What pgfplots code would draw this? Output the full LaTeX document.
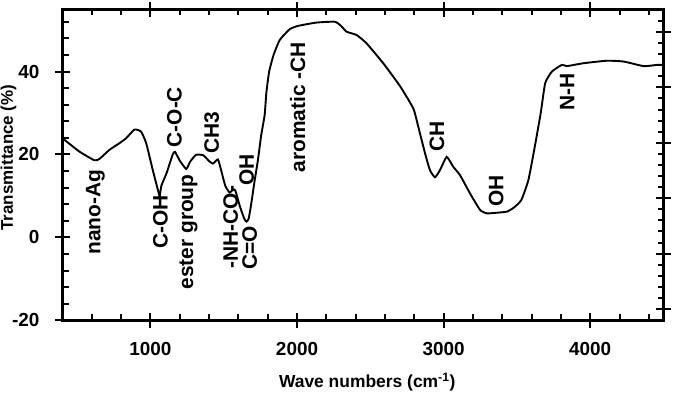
\documentclass[border=0pt]{standalone}
\usepackage{fontspec}
\setmainfont{Liberation Sans}
\usepackage{pgfplots}
\pgfplotsset{compat=1.18}
\pgfplotsset{base/.style={scale only axis, width=601bp, height=311bp,
  xmin=400, xmax=4500, ymin=-20, ymax=55,
  every tick/.style={line width=2bp, black},
  /pgf/number format/assume math mode=true,
  /pgf/number format/1000 sep={}}}
\begin{document}
\begin{tikzpicture}[font=\bfseries]
\begin{axis}[base,
  axis line style={line width=3bp},
  xtick={1000,2000,3000,4000}, ytick={-20,0,20,40},
  xtick pos=both, ytick pos=left,
  tick align=center, major tick length=15bp, minor tick num=0,
  tick label style={font=\bfseries\fontsize{19}{19}\selectfont},
  xticklabel style={yshift=-11bp},
  yticklabel style={xshift=-12bp},
  xlabel={Wave numbers (cm\textsuperscript{-1})},
  xlabel style={at={(axis description cs:0.507,-0.2175)}, anchor=base, font=\bfseries\fontsize{17.5}{17.5}\selectfont},
  ylabel={Transmittance (\%)},
  ylabel style={at={(axis description cs:-0.0899,0.523)}, anchor=center, font=\bfseries\fontsize{17}{17}\selectfont},
]
\coordinate (O) at (rel axis cs:0,0);
\addplot[black, line width=1.9bp, smooth, tension=0.3] coordinates {
(400,23.9) (515,20.7) (617,18.6) (651,18.9) (720,21.1) (788,22.7) (834,23.9)
(891,26.0) (936,25.5) (971,22.7) (1016,16.2) (1057,10.6) (1063,9.8) (1075,12.5)
(1110,15.5) (1152,20.0) (1168,20.6) (1200,18.5) (1244,16.5) (1270,18.2)
(1310,19.9) (1360,19.8) (1400,18.4) (1426,17.8) (1460,18.8) (1480,16.5)
(1510,12.5) (1540,10.8) (1565,11.6) (1580,11.2) (1610,7.5) (1640,4.5)
(1655,3.8) (1670,4.5) (1688,8.2) (1710,13.5) (1733,18.6) (1755,24.5)
(1779,29.5) (1791,35.0) (1810,40.0) (1840,44.0) (1882,47.6) (1950,50.2)
(2007,51.0) (2133,51.8) (2258,52.0) (2300,51.0) (2338,49.6) (2406,48.8)
(2474,46.8) (2588,42.0) (2702,36.5) (2793,31.1) (2827,26.7) (2873,20.3)
(2907,16.2) (2941,14.5) (2975,16.2) (3021,19.4) (3066,17.0) (3112,15.0)
(3180,10.6) (3249,6.6) (3295,5.8) (3350,5.9) (3431,6.2) (3480,7.2)
(3530,9.0) (3578,13.8) (3618,21.1) (3662,29.9) (3693,37.2) (3739,40.0)
(3807,41.6) (3841,41.3) (3955,42.0) (4115,42.6) (4229,42.4) (4365,41.3)
(4457,41.6) (4500,41.6)
};
\begin{scope}[every node/.style={rotate=90, anchor=center, inner sep=0pt, font=\bfseries\fontsize{21}{21}\selectfont}]
\node at (axis cs:624,6.1) {nano-Ag};
\node at (axis cs:1068,3.7) {C-OH};
\node at (axis cs:1260,1.3) {ester group};
\node at (axis cs:1164,29.0) {C-O-C};
\node at (axis cs:1417,25.2) {CH3};
\node at (axis cs:1656,16.2) {OH};
\node at (axis cs:1547,2.5) {-NH-CO-};
\node at (axis cs:1677,-2.6) {C=O};
\node at (axis cs:2005,31.4) {aromatic -CH};
\node at (axis cs:2955,24.4) {CH};
\node at (axis cs:3358,11.2) {OH};
\node at (axis cs:3843,35.0) {N-H};
\end{scope}
\end{axis}
% inner minor ticks, left and top/bottom
\begin{axis}[base, axis line style={draw=none},
  xtick={1000,2000,3000,4000}, ytick={-20,0,20,40},
  xticklabels={}, yticklabels={}, major tick length=0bp,
  minor xtick={600,800,1200,1400,1600,1800,2200,2400,2600,2800,3200,3400,3600,3800,4200,4400},
  minor ytick={-16,-12,-8,-4,4,8,12,16,24,28,32,36,44,48,52},
  xtick pos=both, ytick pos=left,
  tick align=inside, minor tick length=6bp]
\end{axis}
% right axis majors
\begin{axis}[base, axis line style={draw=none},
  xtick=\empty, ytick={-17.3,-3.93,9.44,22.81,36.18,49.55},
  yticklabels={}, ytick pos=right,
  tick align=center, major tick length=15bp, minor tick num=0]
\end{axis}
% right axis minors
\begin{axis}[base, axis line style={draw=none},
  xtick=\empty, ytick={-17.3,-3.93,9.44,22.81,36.18,49.55},
  yticklabels={}, major tick length=0bp,
  minor ytick={-14.63,-11.95,-9.28,-6.60,-1.26,1.42,4.09,6.77,12.11,14.79,17.46,20.14,25.48,28.16,30.83,33.51,38.85,41.53,44.20,46.88,52.22},
  ytick pos=right, tick align=inside, minor tick length=6bp]
\end{axis}
\pgfresetboundingbox
\path[use as bounding box] (O) ++(-62.5bp,-80.7bp) rectangle ++(675bp,401bp);
\end{tikzpicture}
\end{document}
